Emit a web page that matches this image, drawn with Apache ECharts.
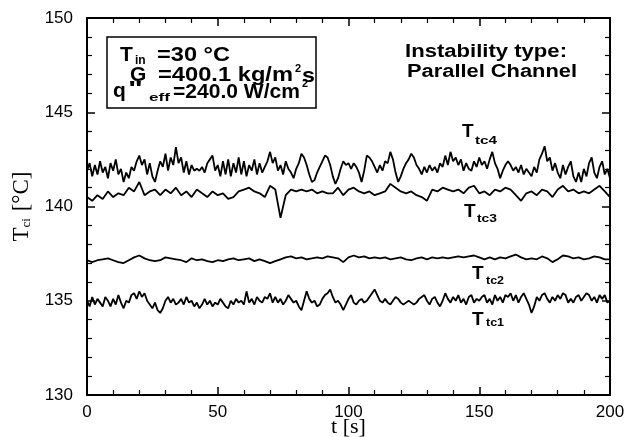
<!DOCTYPE html>
<html><head><meta charset="utf-8">
<script src="https://cdn.jsdelivr.net/npm/echarts@6/dist/echarts.min.js"></script>
<style>html,body{margin:0;padding:0;background:#fff}#c{width:627px;height:437px}</style>
</head><body><div id="c"></div>
<script>
// ---- Data ----
const xTicks = [0, 50, 100, 150, 200];
const yTicks = [130, 135, 140, 145, 150];
const stepTc4 = 1, stepTc3 = 2, stepTc2 = 2, stepTc1 = 1; // seconds between samples

const tc4 = [141.9,142.3,141.6,142.2,141.7,142.4,141.8,142.1,141.5,142.3,141.9,142.5,141.7,142.0,141.3,141.8,141.5,142.1,141.9,142.4,
142.7,142.2,142.5,141.7,142.3,141.6,141.3,141.9,142.4,142.1,142.8,141.9,142.6,142.2,143.15,142.3,142.6,141.8,142.4,141.7,
142.2,141.9,142.0,141.9,142.1,141.8,142.3,142.5,142.7,141.9,142.2,141.6,142.4,141.7,142.5,141.6,142.3,141.8,142.6,141.7,
142.4,141.6,142.2,141.9,142.5,141.7,142.3,141.8,142.1,142.4,142.9,142.3,142.6,141.9,142.2,141.7,142.4,142.0,141.8,141.5,
142.0,142.3,142.8,142.6,142.2,141.7,141.3,141.4,141.8,142.1,142.4,142.7,142.6,142.2,141.6,141.2,141.5,142.0,142.4,142.2,
142.3,142.0,142.3,142.1,141.8,141.3,141.9,142.7,142.6,142.4,142.1,141.8,142.2,141.9,142.4,142.3,142.9,142.5,141.8,141.3,
141.6,142.0,142.3,142.5,142.8,142.6,142.2,142.0,141.7,142.1,141.8,142.2,141.9,142.1,141.8,142.3,142.1,142.7,142.2,142.9,
142.4,142.6,142.2,142.5,141.9,142.3,142.0,141.9,142.4,142.1,142.6,142.2,142.4,142.0,142.5,142.9,142.3,142.0,141.5,141.9,
142.2,142.4,142.2,141.9,142.1,141.8,142.2,141.7,142.0,141.8,141.6,142.1,141.8,142.5,142.8,143.2,142.4,142.6,141.9,142.3,
141.8,141.5,142.2,141.7,142.1,142.4,141.6,141.3,141.8,141.3,142.0,141.6,142.3,142.6,141.8,141.5,142.1,142.4,141.7,142.0,141.5];

const tc3 = [140.5,140.3,140.6,140.4,140.8,140.5,140.7,140.6,141.0,140.8,141.3,140.6,140.8,140.9,140.6,140.9,140.7,141.0,140.6,140.8,
140.5,140.9,140.7,140.5,140.8,140.6,140.7,140.4,140.5,140.8,140.9,141.0,140.8,140.7,140.5,141.1,140.9,139.4,140.6,140.9,
140.8,140.9,140.8,140.9,140.7,140.8,140.7,140.7,141.0,140.6,140.9,141.0,140.8,140.7,140.8,140.6,140.7,140.8,141.2,141.0,
140.8,140.7,140.8,140.6,140.5,140.3,140.9,140.8,141.0,140.9,140.8,140.9,140.7,141.0,141.1,140.7,140.8,140.6,140.9,140.8,
141.0,140.9,140.6,140.3,140.7,140.8,140.6,140.9,140.8,140.5,140.9,141.1,140.8,140.9,140.7,140.8,140.7,140.9,141.1,140.8,140.5];

const tc2 = [137.15,137.05,137.15,137.2,137.25,137.15,137.05,137.0,137.15,137.3,137.4,137.25,137.15,137.1,137.15,137.3,137.25,137.2,137.15,137.05,
137.25,137.15,137.2,137.1,137.05,137.15,137.1,137.2,137.25,137.15,137.2,137.25,137.1,137.2,137.1,137.0,137.1,137.2,137.3,137.35,
137.25,137.3,137.2,137.25,137.3,137.25,137.35,137.3,137.25,137.05,137.3,137.4,137.3,137.35,137.25,137.3,137.25,137.3,137.2,137.25,
137.3,137.2,137.15,137.25,137.3,137.2,137.3,137.25,137.3,137.25,137.3,137.35,137.3,137.35,137.4,137.3,137.2,137.3,137.2,137.3,
137.25,137.35,137.45,137.3,137.2,137.25,137.2,137.35,137.25,137.05,137.2,137.4,137.35,137.25,137.3,137.2,137.25,137.35,137.3,137.2,137.2];

const tc1 = [135.0,134.7,135.2,134.8,135.1,134.9,134.7,135.2,135.0,134.7,135.1,134.8,135.3,134.9,134.6,135.0,134.9,135.3,135.4,135.1,
135.5,135.2,135.4,135.0,134.8,134.6,134.9,134.5,134.35,134.6,135.0,135.2,134.9,135.1,134.8,134.9,135.1,134.8,135.2,134.9,
135.0,134.7,134.9,134.6,134.8,135.1,134.8,135.0,134.7,134.9,134.8,135.1,134.9,134.7,134.6,135.0,134.8,135.1,134.9,135.0,
134.8,135.5,134.9,135.1,134.8,135.2,135.0,134.9,135.2,135.1,135.4,134.9,135.2,134.9,135.1,134.8,135.0,135.3,135.1,134.9,
135.0,134.7,134.5,135.0,135.5,135.1,134.9,135.0,134.7,134.8,135.1,135.3,135.4,135.6,135.2,134.9,135.0,134.8,134.5,134.8,
135.1,135.3,134.9,134.8,135.0,135.1,134.9,135.0,135.2,135.4,135.6,135.3,135.0,134.9,135.1,134.9,134.8,135.0,135.2,135.1,
134.9,134.8,134.9,135.0,134.9,134.8,134.9,135.1,135.2,135.3,135.0,134.8,135.1,135.2,134.9,134.7,135.0,135.4,135.1,134.9,
135.2,135.0,135.3,134.9,135.1,134.8,135.2,135.3,134.9,135.1,135.0,135.2,135.3,134.9,135.1,134.8,135.3,135.0,135.2,134.9,
135.3,135.2,135.4,135.0,135.3,134.9,135.2,135.4,135.1,134.8,134.35,134.7,135.2,135.0,135.3,135.4,135.1,134.9,135.2,135.0,
135.3,135.1,135.4,135.3,134.9,135.1,134.9,135.2,135.3,135.0,135.2,135.4,135.3,135.0,135.2,134.9,135.3,135.1,135.3,134.9,135.0];

const seriesNames = ['Ttc4', 'Ttc3', 'Ttc2', 'Ttc1'];

// ---- Chart ----
const SANS = '"Liberation Sans", Arial, Helvetica, sans-serif';
const SERIF = '"Liberation Serif", "Times New Roman", serif';
const measureCtx = document.createElement('canvas').getContext('2d');
function textWidth(str, font) { measureCtx.font = font; return measureCtx.measureText(str).width; }

function txt(str, x, cy, size, opt) {
  opt = opt || {};
  const font = (opt.weight || 'bold') + ' ' + size + 'px ' + (opt.family || SANS);
  const el = {
    type: 'text', x: x, y: cy, silent: true, z: 100,
    style: { text: str, font: font, fill: '#000', align: 'left', verticalAlign: 'middle',
             textAlign: 'left', textVerticalAlign: 'middle' }
  };
  if (opt.toX) { el.scaleX = (opt.toX - x) / textWidth(str, font); }
  if (opt.scaleX) { el.scaleX = opt.scaleX; }
  return el;
}

const toPairs = (arr, step) => arr.map((v, i) => [i * step, v]);

const MAJOR_LEN = 8, MINOR_LEN = 5;
const tickLine = { color: '#000', width: 1.5 };

// builds: main axis (line + labels), inward major ticks, inward minor ticks
function axisSet(type, position, min, max, interval, extra) {
  const base = { type: 'value', min: min, max: max, interval: interval, position: position,
                 splitLine: { show: false }, minorSplitLine: { show: false } };
  const none = { show: false };
  const main = Object.assign({}, base, {
    axisLine: { show: true, onZero: false, lineStyle: { color: '#000', width: 2 } },
    axisTick: none, minorTick: none, axisLabel: none
  }, extra || {});
  const major = Object.assign({}, base, {
    offset: -MAJOR_LEN, axisLine: { show: false, onZero: false }, axisLabel: none, minorTick: none,
    axisTick: { show: true, inside: false, length: MAJOR_LEN, lineStyle: tickLine }
  });
  const minor = Object.assign({}, base, {
    offset: -MINOR_LEN, axisLine: { show: false, onZero: false }, axisLabel: none, axisTick: none,
    minorTick: { show: true, splitNumber: 5, length: MINOR_LEN, lineStyle: { color: '#000', width: 1.2 } }
  });
  return [main, major, minor];
}

const xMin = xTicks[0], xMax = xTicks[xTicks.length - 1], xInt = xTicks[1] - xTicks[0];
const yMin = yTicks[0], yMax = yTicks[yTicks.length - 1], yInt = yTicks[1] - yTicks[0];

const xAxes = axisSet('x', 'bottom', xMin, xMax, xInt, {
  name: 't [s]', nameLocation: 'middle', nameGap: 21, nameMoveOverlap: false,
  nameTextStyle: { fontFamily: SERIF, fontSize: 22, color: '#000' },
  axisLabel: { show: true, margin: 9, fontFamily: SANS, fontSize: 17, color: '#000' }
}).concat(axisSet('x', 'top', xMin, xMax, xInt));

const yAxes = axisSet('y', 'left', yMin, yMax, yInt, {
  name: '{a|T}{s|ci}{a| [°C]}', nameLocation: 'middle', nameGap: 54, nameRotate: 90, nameMoveOverlap: false,
  nameTextStyle: {
    rich: {
      a: { fontFamily: SERIF, fontSize: 23, color: '#000' },
      s: { fontFamily: SERIF, fontSize: 13, color: '#000', verticalAlign: 'bottom', padding: [6, 1, 0, 0] }
    }
  },
  axisLabel: { show: true, margin: 14, fontFamily: SANS, fontSize: 17, color: '#000' }
}).concat(axisSet('y', 'right', yMin, yMax, yInt));

const chart = echarts.init(document.getElementById('c'), null, { renderer: 'canvas' });

const option = {
  animation: false,
  backgroundColor: '#fff',
  grid: { left: 87, right: 17, top: 18, bottom: 42, containLabel: false, outerBoundsMode: 'none' },
  xAxis: xAxes,
  yAxis: yAxes,
  series: [
    { name: seriesNames[0], data: toPairs(tc4, stepTc4) },
    { name: seriesNames[1], data: toPairs(tc3, stepTc3) },
    { name: seriesNames[2], data: toPairs(tc2, stepTc2) },
    { name: seriesNames[3], data: toPairs(tc1, stepTc1) }
  ].map(s => Object.assign({
    type: 'line', showSymbol: false, symbol: 'none', smooth: false,
    lineStyle: { color: '#000', width: 1.8 }, xAxisIndex: 0, yAxisIndex: 0
  }, s)),
  graphic: [
    { type: 'rect', shape: { x: 107, y: 37, width: 209, height: 71 }, z: 90,
      style: { fill: '#fff', stroke: '#000', lineWidth: 1.5 } },
    txt('T', 120, 55, 21),
    txt('in', 135, 61, 12),
    txt('=30 °C', 157, 55, 21, { toX: 230 }),
    txt('G', 130, 75, 21),
    txt('=400.1 kg/m', 158, 75, 21, { toX: 293 }),
    txt('2', 295, 69, 11),
    txt('s', 302, 76, 21, { toX: 315 }),
    txt('q', 113, 91, 21),
    txt('"', 128, 89, 21, { scaleX: 1.5 }),
    txt('eff', 149, 98, 11, { toX: 170 }),
    txt('=240.0 W/cm', 173, 92, 21, { toX: 300 }),
    txt('2', 302, 84, 11),
    txt('Instability type:', 405, 52, 18, { toX: 567 }),
    txt('Parallel Channel', 407, 72, 18, { toX: 577 }),
    txt('T', 462, 132, 19),
    txt('tc4', 475, 141, 11, { toX: 497 }),
    txt('T', 464, 212, 19),
    txt('tc3', 477, 219, 11, { toX: 497 }),
    txt('T', 472, 274, 19),
    txt('tc2', 486, 281, 11, { toX: 504 }),
    txt('T', 472, 320, 19),
    txt('tc1', 486, 323, 11, { toX: 504 })
  ]
};
chart.setOption(option);
</script>
</body></html>
